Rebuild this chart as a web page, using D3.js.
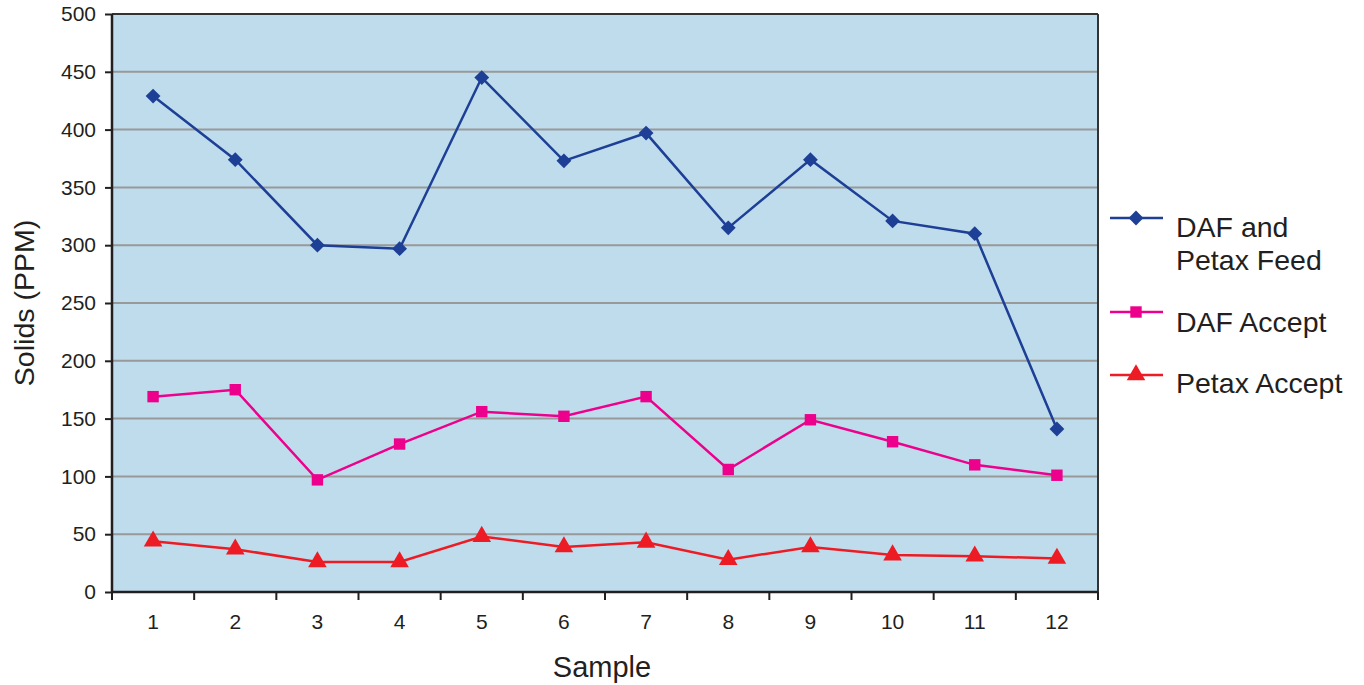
<!DOCTYPE html>
<html><head><meta charset="utf-8">
<script src="https://cdn.jsdelivr.net/npm/d3@7"></script>
<style>body{margin:0;background:#fff;} text{font-family:"Liberation Sans",Arial,sans-serif;fill:#231f20;}</style>
</head><body><svg id="c" width="1364" height="685"></svg>
<script>
const samples = ["1","2","3","4","5","6","7","8","9","10","11","12"];
const feed = [429,374,300,297,445,373,397,315,374,321,310,141];
const dafAccept = [169,175,97,128,156,152,169,106,149,130,110,101];
const petaxAccept = [44,37,26,26,48,39,43,28,39,32,31,29];
const yTicks = [0,50,100,150,200,250,300,350,400,450,500];
const seriesNames = [["DAF and","Petax Feed"],["DAF Accept"],["Petax Accept"]];

const svg = d3.select("#c");
const L=112,R=1098,T=14,B=592;
const x = d3.scaleBand().domain(samples).range([L,R]);
const y = d3.scaleLinear().domain([0,500]).range([B,T]);

svg.append("rect").attr("x",L).attr("y",T).attr("width",R-L).attr("height",B-T).attr("fill","#bfdcec");
svg.append("g").selectAll("line").data(yTicks.slice(1,-1)).join("line")
 .attr("x1",L).attr("x2",R).attr("y1",d=>y(d)).attr("y2",d=>y(d)).attr("stroke","#999").attr("stroke-width",2);
svg.append("line").attr("x1",L).attr("x2",R).attr("y1",T).attr("y2",T).attr("stroke","#333").attr("stroke-width",2);
svg.append("line").attr("x1",R).attr("x2",R).attr("y1",T).attr("y2",B).attr("stroke","#333").attr("stroke-width",2);

const yAxis = svg.append("g").attr("transform",`translate(${L},0)`)
 .call(d3.axisLeft(y).tickValues(yTicks).tickSize(7).tickPadding(9));
const xAxis = svg.append("g").attr("transform",`translate(0,${B})`)
 .call(d3.axisBottom(x).tickSize(0).tickPadding(22));
svg.append("g").selectAll("line").data(d3.range(samples.length+1)).join("line")
 .attr("x1",i=>L+i*x.step()).attr("x2",i=>L+i*x.step()).attr("y1",B).attr("y2",B+8).attr("stroke","#231f20").attr("stroke-width",2);
[yAxis,xAxis].forEach(a=>{a.selectAll(".domain").attr("stroke","#231f20").attr("stroke-width",2.5);
 a.selectAll(".tick line").attr("stroke","#231f20").attr("stroke-width",2);
 a.selectAll("text").attr("font-size",21).attr("fill","#231f20").attr("font-family","Liberation Sans, Arial, sans-serif");});
yAxis.select(".domain").attr("d",`M0,${T}V${B}`);
xAxis.select(".domain").attr("d",`M${L},0H${R}`);

svg.append("text").attr("transform",`translate(34,${(T+B)/2}) rotate(-90)`).attr("text-anchor","middle").attr("font-size",28.5).text("Solids (PPM)");
svg.append("text").attr("x",(L+R)/2 - 3).attr("y",677).attr("text-anchor","middle").attr("font-size",29).text("Sample");

const cx = d=>x(d)+x.bandwidth()/2;
const diamond = {draw(ctx,size){const r=Math.sqrt(size/2);ctx.moveTo(0,-r);ctx.lineTo(r,0);ctx.lineTo(0,r);ctx.lineTo(-r,0);ctx.closePath();}};
const series = [
 {vals:feed,color:"#1d3f95",sym:diamond,size:110},
 {vals:dafAccept,color:"#ec008c",sym:d3.symbolSquare,size:130},
 {vals:petaxAccept,color:"#ed1c24",sym:d3.symbolTriangle,size:150}
];
const line = d3.line().x((d,i)=>cx(samples[i])).y(d=>y(d));
series.forEach(s=>{
 svg.append("path").attr("d",line(s.vals)).attr("fill","none").attr("stroke",s.color).attr("stroke-width",2.5);
 svg.append("g").selectAll("path").data(s.vals).join("path")
  .attr("transform",(d,i)=>`translate(${cx(samples[i])},${y(d)})`)
  .attr("d",d3.symbol().type(s.sym).size(s.size)).attr("fill",s.color);
});

const legY=[218,312,375];
const legText=[237,332,393];
const lg = svg.append("g");
series.forEach((s,i)=>{
 lg.append("line").attr("x1",1110).attr("x2",1163).attr("y1",legY[i]).attr("y2",legY[i]).attr("stroke",s.color).attr("stroke-width",2.5);
 lg.append("path").attr("transform",`translate(1136,${legY[i]})`).attr("d",d3.symbol().type(s.sym).size(s.size)).attr("fill",s.color);
 const t = lg.append("text").attr("x",1176).attr("y",legText[i]).attr("font-size",28.5);
 seriesNames[i].forEach((n,j)=>t.append("tspan").attr("x",1176).attr("dy",j?33:0).text(n));
});
</script></body></html>
